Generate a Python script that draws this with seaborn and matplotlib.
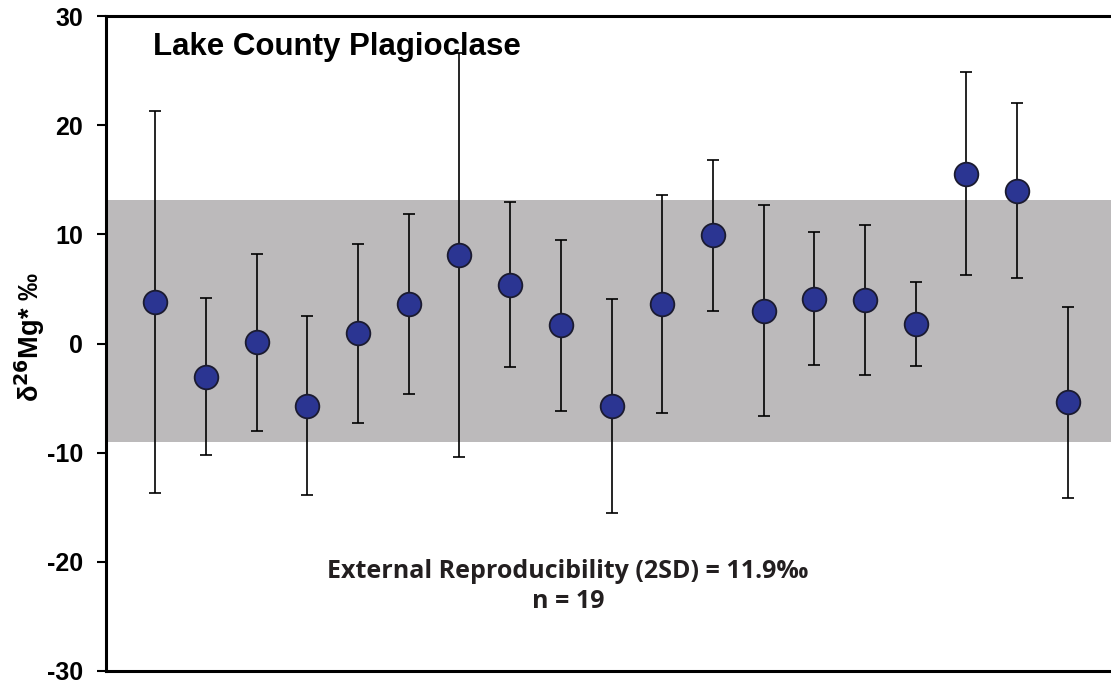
import matplotlib
matplotlib.use("Agg")
import matplotlib.pyplot as plt
import seaborn as sns
import numpy as np
import pandas as pd

# data
sample = list(range(1, 20))
delta26mg = [3.8, -3.05, 0.1, -5.7, 0.95, 3.6, 8.1, 5.4, 1.65, -5.7,
             3.6, 9.9, 3.0, 4.1, 4.0, 1.75, 15.55, 14.0, -5.4]
err2sd = [17.5, 7.2, 8.1, 8.2, 8.2, 8.25, 18.5, 7.55, 7.8, 9.8,
          10.0, 6.9, 9.65, 6.1, 6.9, 3.85, 9.3, 8.0, 8.75]
band_low, band_high = -9.0, 13.1
yticks = [-30, -20, -10, 0, 10, 20, 30]

df = pd.DataFrame({"sample": sample, "d26": delta26mg, "err": err2sd})

sns.set_theme(style="white")
plt.rcParams['font.family'] = ['Liberation Sans', 'DejaVu Sans']
plt.rcParams['text.color'] = 'black'
plt.rcParams['axes.labelcolor'] = 'black'
plt.rcParams['ytick.color'] = 'black'

W, H = 1111, 688
fig = plt.figure(figsize=(W / 100, H / 100), dpi=100)
ax = fig.add_axes([106 / W, 1 - 671 / H, 1 - 106 / W, (671 - 16) / H])

ax.axhspan(band_low, band_high, color='#bcbabb', zorder=0, lw=0)

ax.text(153 / W * 0 + 0.0468, 1 - (55 - 16) / (671 - 16), 'Lake County Plagioclase',
        transform=ax.transAxes, fontsize=22.5, fontweight='bold',
        va='baseline', ha='left', zorder=1)

ax.errorbar(df["sample"], df["d26"], yerr=df["err"], fmt='none',
            ecolor='black', elinewidth=1.2, capsize=4, capthick=1.2, zorder=2)
sns.scatterplot(data=df, x="sample", y="d26", ax=ax, s=290,
                color='#2b3592', edgecolor='#1b1b30', linewidth=1.3, zorder=3)

ax.set_xlim(0.03, 19.85)
ax.set_ylim(-30, 30)
ax.set_yticks(yticks)
ax.set_yticklabels([str(t) for t in yticks], fontsize=18, fontweight='bold')
ax.set_xticks([])
ax.tick_params(axis='y', direction='out', length=6.5, width=1.5, pad=10, left=True,
               colors='black')
for s in ['left', 'top', 'bottom']:
    ax.spines[s].set_linewidth(2.2)
    ax.spines[s].set_color('black')
ax.spines['right'].set_visible(False)
ax.set_xlabel('')
ax.set_ylabel('')

fig.text(30 / W, 1 - 337 / H, 'δ$^{\\mathbf{26}}$Mg* ‰', rotation=90,
         fontsize=19.5, fontweight='bold', ha='center', va='center')

ann_font = ['Open Sans', 'DejaVu Sans']
fig.text(568 / W, 1 - 572 / H, 'External Reproducibility (2SD) = 11.9‰',
         ha='center', va='center', fontsize=18, fontweight='bold',
         family=ann_font, color='#231f20')
fig.text(568 / W, 1 - 601 / H, 'n = 19',
         ha='center', va='center', fontsize=18, fontweight='bold',
         family=ann_font, color='#231f20')

fig.savefig('out.png', dpi=100)
